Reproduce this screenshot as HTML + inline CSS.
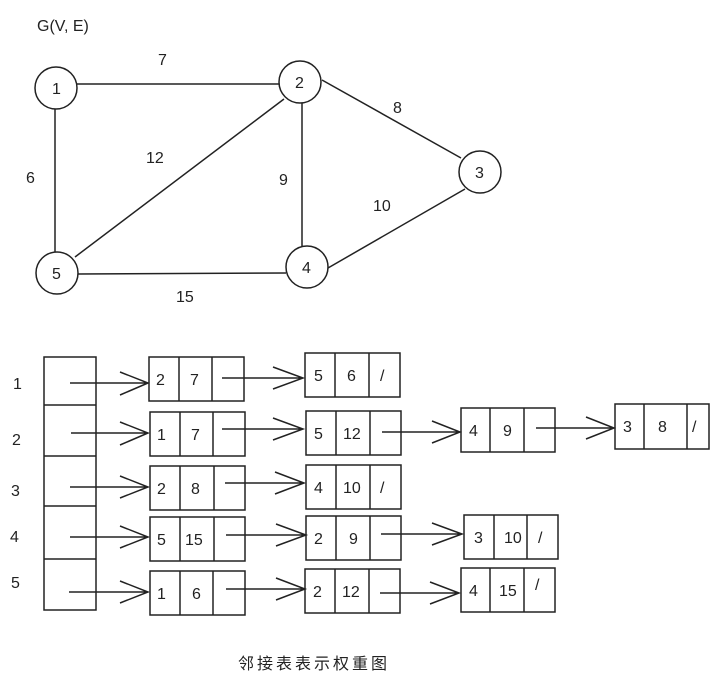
<!DOCTYPE html>
<html><head><meta charset="utf-8"><style>
html,body{margin:0;padding:0;background:#fff;}
svg{display:block;}
text{font-family:"Liberation Sans","Noto Sans CJK SC",sans-serif;fill:#222;font-size:16px;}
</style></head><body>
<svg width="720" height="687" viewBox="0 0 720 687" xmlns="http://www.w3.org/2000/svg">
<g stroke="#222" stroke-width="1.5" fill="none">
<line x1="77" y1="84" x2="279" y2="84"/>
<line x1="55" y1="108" x2="55" y2="252"/>
<line x1="284" y1="99" x2="75" y2="257"/>
<line x1="302" y1="103" x2="302" y2="246"/>
<line x1="322" y1="80" x2="461" y2="158"/>
<line x1="465" y1="189" x2="328" y2="268"/>
<line x1="78" y1="274" x2="286" y2="273"/>
<circle cx="56" cy="88" r="21" fill="#fff"/>
<circle cx="300" cy="82" r="21" fill="#fff"/>
<circle cx="480" cy="172" r="21" fill="#fff"/>
<circle cx="307" cy="267" r="21" fill="#fff"/>
<circle cx="57" cy="273" r="21" fill="#fff"/>

<rect x="44" y="357" width="52" height="253"/>
<line x1="44" y1="405" x2="96" y2="405"/>
<line x1="44" y1="456" x2="96" y2="456"/>
<line x1="44" y1="506" x2="96" y2="506"/>
<line x1="44" y1="559" x2="96" y2="559"/>

<rect x="149" y="357" width="95" height="44"/><line x1="179" y1="357" x2="179" y2="401"/><line x1="212" y1="357" x2="212" y2="401"/>
<rect x="150" y="412" width="95" height="44"/><line x1="180" y1="412" x2="180" y2="456"/><line x1="213" y1="412" x2="213" y2="456"/>
<rect x="150" y="466" width="95" height="44"/><line x1="180" y1="466" x2="180" y2="510"/><line x1="214" y1="466" x2="214" y2="510"/>
<rect x="150" y="517" width="95" height="44"/><line x1="180" y1="517" x2="180" y2="561"/><line x1="214" y1="517" x2="214" y2="561"/>
<rect x="150" y="571" width="95" height="44"/><line x1="180" y1="571" x2="180" y2="615"/><line x1="213" y1="571" x2="213" y2="615"/>
<rect x="305" y="353" width="95" height="44"/><line x1="335" y1="353" x2="335" y2="397"/><line x1="369" y1="353" x2="369" y2="397"/>
<rect x="306" y="411" width="95" height="44"/><line x1="336" y1="411" x2="336" y2="455"/><line x1="370" y1="411" x2="370" y2="455"/>
<rect x="306" y="465" width="95" height="44"/><line x1="336" y1="465" x2="336" y2="509"/><line x1="370" y1="465" x2="370" y2="509"/>
<rect x="306" y="516" width="95" height="44"/><line x1="336" y1="516" x2="336" y2="560"/><line x1="370" y1="516" x2="370" y2="560"/>
<rect x="305" y="569" width="95" height="44"/><line x1="335" y1="569" x2="335" y2="613"/><line x1="369" y1="569" x2="369" y2="613"/>
<rect x="461" y="408" width="94" height="44"/><line x1="490" y1="408" x2="490" y2="452"/><line x1="524" y1="408" x2="524" y2="452"/>
<rect x="464" y="515" width="94" height="44"/><line x1="494" y1="515" x2="494" y2="559"/><line x1="527" y1="515" x2="527" y2="559"/>
<rect x="461" y="568" width="94" height="44"/><line x1="490" y1="568" x2="490" y2="612"/><line x1="524" y1="568" x2="524" y2="612"/>
<rect x="615" y="404" width="94" height="45"/><line x1="644" y1="404" x2="644" y2="449"/><line x1="687" y1="404" x2="687" y2="449"/>

<path d="M70 383H148M120 372L148 383L120 395"/>
<path d="M71 433H148M120 422L148 433L120 445"/>
<path d="M70 487H148M120 476L148 487L120 498"/>
<path d="M70 537H148M120 526L148 537L120 548"/>
<path d="M69 592H148M120 581L148 592L120 603"/>
<path d="M222 378H303M273 367L303 378L273 389"/>
<path d="M222 429H303M273 418L303 429L273 440"/>
<path d="M225 483H304M275 472L304 483L275 494"/>
<path d="M226 535H306M276 524L306 535L276 546"/>
<path d="M226 589H305M276 578L305 589L276 600"/>
<path d="M382 432H460M432 421L460 432L432 443"/>
<path d="M381 534H462M432 523L462 534L432 545"/>
<path d="M380 593H459M430 582L459 593L430 604"/>
<path d="M536 428H614M586 417L614 428L586 439"/>
</g>
<text x="37" y="31">G(V, E)</text>
<text x="52" y="94">1</text><text x="295" y="88">2</text><text x="475" y="178">3</text><text x="302" y="273">4</text><text x="52" y="279">5</text>
<text x="158" y="65">7</text><text x="393" y="113">8</text><text x="146" y="163">12</text><text x="26" y="183">6</text>
<text x="279" y="185">9</text><text x="373" y="211">10</text><text x="176" y="302">15</text>
<text x="13" y="389">1</text><text x="12" y="445">2</text><text x="11" y="496">3</text><text x="10" y="542">4</text><text x="11" y="588">5</text>
<g>
<text x="156" y="385">2</text><text x="190" y="385">7</text>
<text x="157" y="440">1</text><text x="191" y="440">7</text>
<text x="157" y="494">2</text><text x="191" y="494">8</text>
<text x="157" y="545">5</text><text x="185" y="545">15</text>
<text x="157" y="599">1</text><text x="192" y="599">6</text>
<text x="314" y="381">5</text><text x="347" y="381">6</text><text x="380" y="381">/</text>
<text x="314" y="439">5</text><text x="343" y="439">12</text>
<text x="314" y="493">4</text><text x="343" y="493">10</text><text x="380" y="493">/</text>
<text x="314" y="544">2</text><text x="349" y="544">9</text>
<text x="313" y="597">2</text><text x="342" y="597">12</text>
<text x="469" y="436">4</text><text x="503" y="436">9</text>
<text x="474" y="543">3</text><text x="504" y="543">10</text><text x="538" y="543">/</text>
<text x="469" y="596">4</text><text x="499" y="596">15</text><text x="535" y="590">/</text>
<text x="623" y="432">3</text><text x="658" y="432">8</text><text x="692" y="432">/</text>
</g>
<text x="238" y="669" style="font-size:16px;letter-spacing:3px">邻接表表示权重图</text>
</svg>
</body></html>
